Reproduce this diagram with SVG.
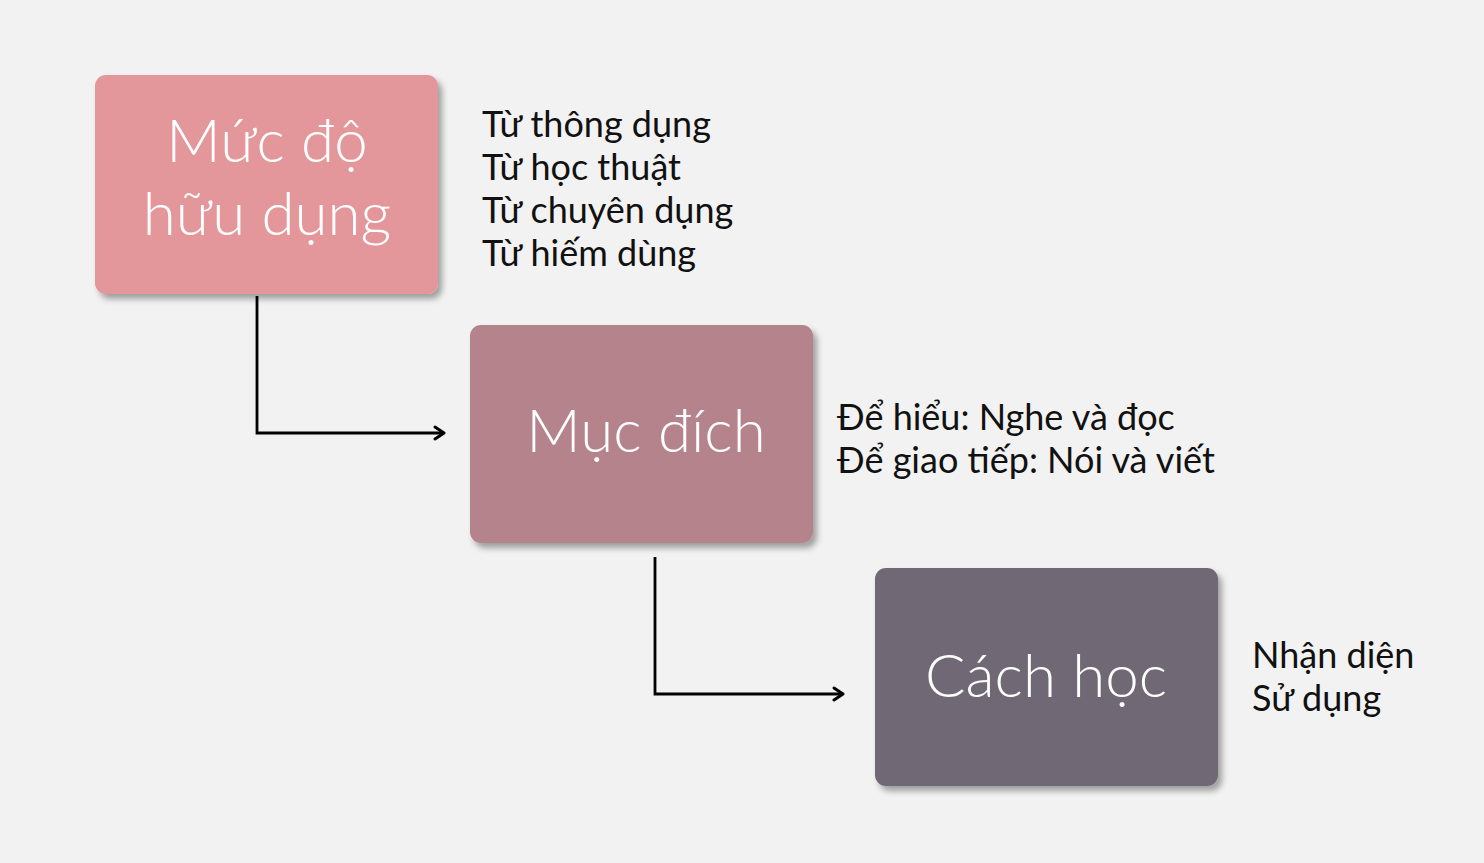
<svg xmlns="http://www.w3.org/2000/svg" width="1484" height="863" viewBox="0 0 1484 863">
<defs>
<filter id="sh" x="-10%" y="-10%" width="125%" height="130%">
<feDropShadow dx="4" dy="5" stdDeviation="3" flood-color="#000" flood-opacity="0.35"/>
</filter>
<marker id="arr" markerWidth="16" markerHeight="16" refX="12" refY="8" orient="auto" markerUnits="userSpaceOnUse">
<path d="M3,2 L12,8 L3,14" fill="none" stroke="#000" stroke-width="3" stroke-linecap="round" stroke-linejoin="round"/>
</marker>
<style>
.box{filter:url(#sh);}
.bt{font-family:Lato,"Noto Sans",sans-serif;font-weight:300;font-size:60px;fill:#fff;text-anchor:middle;}
.st{font-family:Lato,"Noto Sans",sans-serif;font-size:36px;fill:#111;}
.con{fill:none;stroke:#000;stroke-width:2.8;}
</style>
</defs>
<rect width="1484" height="863" fill="#F2F2F2"/>
<g id="connectors">
<path class="con" d="M257,296 L257,433 L444,433" marker-end="url(#arr)"/>
<path class="con" d="M655,557 L655,694 L843,694" marker-end="url(#arr)"/>
</g>
<g id="node1">
<rect class="box" x="95" y="75" width="343" height="219" rx="11" fill="#E4979A"/>
<text class="bt" x="267" y="162">Mức độ</text>
<text class="bt" x="267" y="235">hữu dụng</text>
</g>
<g id="node1-label">
<text class="st" x="482" y="137">Từ thông dụng</text>
<text class="st" x="482" y="180">Từ học thuật</text>
<text class="st" x="482" y="223">Từ chuyên dụng</text>
<text class="st" x="482" y="266">Từ hiếm dùng</text>
</g>
<g id="node2">
<rect class="box" x="470" y="325" width="343" height="218" rx="11" fill="#B4838C"/>
<text class="bt" x="646" y="452">Mục đích</text>
</g>
<g id="node2-label">
<text class="st" x="837" y="430">Để hiểu: Nghe và đọc</text>
<text class="st" x="837" y="473">Để giao tiếp: Nói và viết</text>
</g>
<g id="node3">
<rect class="box" x="875" y="568" width="343" height="218" rx="11" fill="#6F6775"/>
<text class="bt" x="1046" y="697">Cách học</text>
</g>
<g id="node3-label">
<text class="st" x="1252" y="668">Nhận diện</text>
<text class="st" x="1252" y="711">Sử dụng</text>
</g>
</svg>
